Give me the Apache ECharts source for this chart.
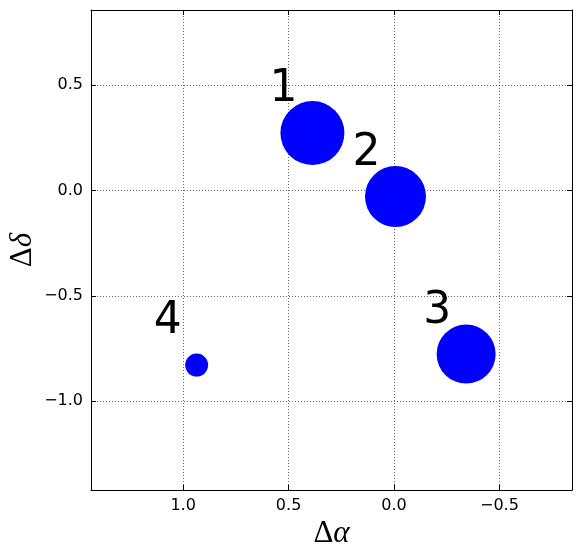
<!DOCTYPE html>
<html>
<head>
<meta charset="utf-8">
<script src="https://cdn.jsdelivr.net/npm/echarts@6/dist/echarts.min.js"></script>
<style>html,body{margin:0;padding:0;background:#fff}#c{width:580px;height:558px}</style>
</head>
<body>
<div id="c"></div>
<script>
const names = ['1', '2', '3', '4'];
const dAlpha = [0.387, -0.007, -0.342, 0.936];
const dDelta = [0.273, -0.028, -0.776, -0.828];
const sizes = [64, 61, 59, 23];
const xTicks = [1.0, 0.5, 0.0, -0.5];
const yTicks = [0.5, 0.0, -0.5, -1.0];
const xRange = [-0.844, 1.437];
const yRange = [-1.421, 0.857];

const fmt = v => Number(v).toFixed(1).replace('-', '\u2212');
const tickStyle = {show: true, inside: true, length: 5, lineStyle: {color: '#000', width: 1}};
const lineStyle = {show: true, onZero: false, lineStyle: {color: '#000', width: 1}};
const nameRich = {rich: {d: {fontFamily: 'Liberation Serif', fontSize: 31, color: '#000'}, g: {fontFamily: 'Liberation Serif', fontStyle: 'italic', fontSize: 31, color: '#000'}}};

const chart = echarts.init(document.getElementById('c'));
chart.setOption({
  animation: false,
  grid: {left: 91, right: 8, top: 10, bottom: 68, show: false, containLabel: false, outerBoundsMode: 'none'},
  xAxis: [{
    type: 'value', inverse: true, min: xRange[0], max: xRange[1], position: 'bottom',
    axisLine: lineStyle, axisTick: Object.assign({customValues: xTicks}, tickStyle),
    axisLabel: {customValues: xTicks, formatter: fmt, color: '#000', fontSize: 16, fontFamily: 'DejaVu Sans', margin: 8},
    splitLine: {show: true, lineStyle: {color: '#000', width: 0.6, type: [1, 2]}},
    name: '{d|\u0394}{g|\u03b1}', nameLocation: 'middle', nameGap: 28, nameMoveOverlap: false,
    nameTextStyle: nameRich
  }, {
    type: 'value', inverse: true, min: xRange[0], max: xRange[1], position: 'top',
    axisLine: lineStyle, axisTick: Object.assign({customValues: xTicks}, tickStyle),
    axisLabel: {show: false}, splitLine: {show: false}
  }],
  yAxis: [{
    type: 'value', min: yRange[0], max: yRange[1], position: 'left',
    axisLine: lineStyle, axisTick: Object.assign({customValues: yTicks}, tickStyle),
    axisLabel: {customValues: yTicks, formatter: fmt, color: '#000', fontSize: 16, fontFamily: 'DejaVu Sans', margin: 8},
    splitLine: {show: true, lineStyle: {color: '#000', width: 0.6, type: [1, 2]}},
    name: '{d|\u0394}{g|\u03b4}', nameLocation: 'middle', nameGap: 53, nameRotate: 90, nameMoveOverlap: false,
    nameTextStyle: nameRich
  }, {
    type: 'value', min: yRange[0], max: yRange[1], position: 'right',
    axisLine: lineStyle, axisTick: Object.assign({customValues: yTicks}, tickStyle),
    axisLabel: {show: false}, splitLine: {show: false}
  }],
  series: [{
    type: 'scatter', xAxisIndex: 0, yAxisIndex: 0,
    data: names.map((n, i) => ({name: n, value: [dAlpha[i], dDelta[i]], symbolSize: sizes[i]})),
    itemStyle: {color: '#0000ff', opacity: 1},
    label: {show: true, position: 'inside', offset: [-29, -43], formatter: p => p.name,
      fontFamily: 'DejaVu Sans', fontSize: 44, color: '#000'}
  }]
});
</script>
</body>
</html>
